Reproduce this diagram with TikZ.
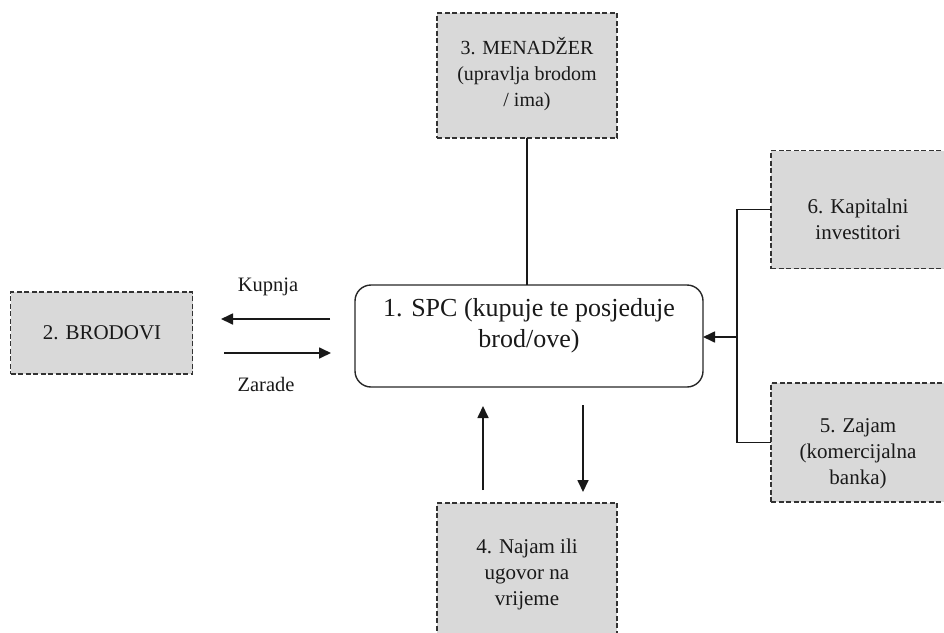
\documentclass[tikz,border=0pt]{standalone}
\usepackage{fontspec}
\setmainfont{Liberation Serif}
\usetikzlibrary{arrows.meta}
\begin{document}
\begin{tikzpicture}[x=1pt,y=-1pt,
  gbox/.style={draw=black!80, fill=gray!30, line width=1.5pt, dash pattern=on 5pt off 2.5pt, inner sep=0pt, outer sep=0pt},
  txt/.style={align=center, font=\fontsize{21}{26}\selectfont, text=black!90, inner sep=0pt},
  bigtxt/.style={align=center, font=\fontsize{26}{31}\selectfont, text=black!90, inner sep=0pt},
  lbl/.style={font=\fontsize{20.5}{22}\selectfont, text=black!90, inner sep=0pt},
  conn/.style={line width=1.7pt, draw=black!90},
  arr/.style={conn, -{Triangle[length=12pt,width=11pt]}}
]
\useasboundingbox (0,0) rectangle (944,632);
\clip (0,0) rectangle (944,632);

% boxes
\node[gbox, minimum width=180pt, minimum height=125pt] (n3) at (527,75.5) {};
\node[txt, font=\fontsize{20}{26}\selectfont] (t3) at (527,74) {3. MENADŽER\\(upravlja brodom\\/ ima)};

\node[draw=black!85, line width=1.4pt, rounded corners=16pt, minimum width=348pt, minimum height=102pt, inner sep=0pt, outer sep=0pt] (n1) at (529,336) {};
\node[bigtxt] (t1) at (529,326) {1. SPC (kupuje te posjeduje\\brod/ove)};

\node[gbox, minimum width=182pt, minimum height=82pt] (n2) at (101.5,333) {};
\node[txt] (t2) at (102,333) {2. BRODOVI};

\node[gbox, minimum width=176pt, minimum height=118pt] (n6) at (859,209.5) {};
\node[txt] (t6) at (858,219) {6. Kapitalni\\investitori};

\node[gbox, minimum width=176pt, minimum height=119pt] (n5) at (859,442.5) {};
\node[txt] (t5) at (858,454) {5. Zajam\\(komercijalna\\banka)};

\node[gbox, minimum width=180pt, minimum height=140pt] (n4) at (527,573) {};
\node[txt] (t4) at (527,574) {4. Najam ili\\ugovor na\\vrijeme};

% labels
\node[lbl] (kup) at (268,287) {Kupnja};
\node[lbl] (zar) at (266,384) {Zarade};

% connectors
\draw[conn] (n3.south) -- (n3.south |- n1.north);

\coordinate (k1) at (330,319);
\coordinate (k2) at (221,319);
\coordinate (z1) at (224,353);
\coordinate (z2) at (331,353);
\draw[arr] (k1) -- (k2);
\draw[arr] (z1) -- (z2);

\coordinate (b6) at (737,209.5);
\coordinate (b5) at (737,442.5);
\coordinate (bm) at (737,337);
\draw[conn] (n6.west) -- (b6) -- (b5) -- (n5.west);
\draw[arr] (bm) -- (bm -| n1.east);

\coordinate (u1) at (483,490);
\coordinate (u2) at (483,406);
\coordinate (d1) at (583,405);
\coordinate (d2) at (583,492);
\draw[arr] (u1) -- (u2);
\draw[arr] (d1) -- (d2);
\end{tikzpicture}
\end{document}
